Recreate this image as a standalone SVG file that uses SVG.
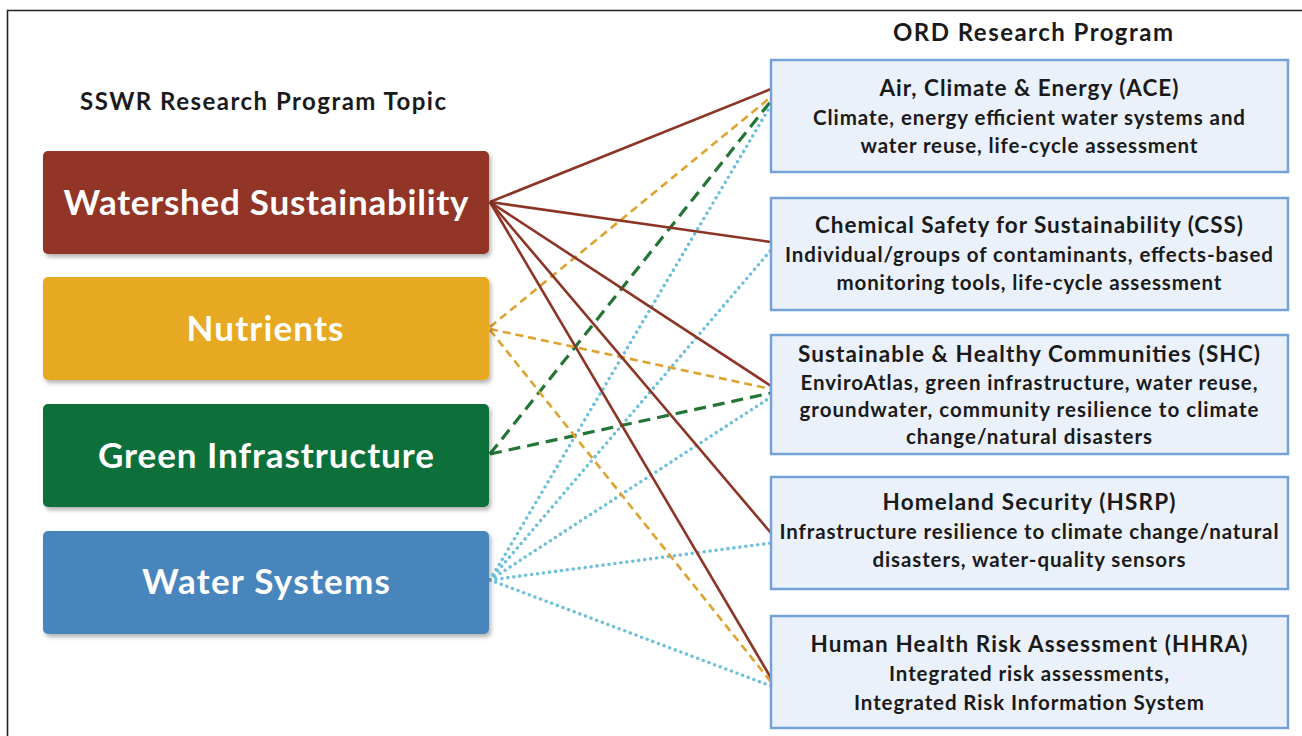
<svg xmlns="http://www.w3.org/2000/svg" width="1302" height="736" viewBox="0 0 1302 736">
<style>
.hdr{font-family:Lato,"Open Sans","Liberation Sans",sans-serif;font-weight:bold;font-size:24px;fill:#1a1a1a;text-anchor:middle}
.lt{font-family:Lato,"Open Sans","Liberation Sans",sans-serif;font-weight:bold;font-size:35px;fill:#ffffff;text-anchor:middle}
.rbox{fill:#eaf1fa;stroke:#73a2d9;stroke-width:2.5}
.rt{font-family:Lato,"Open Sans","Liberation Sans",sans-serif;font-weight:bold;font-size:22.5px;fill:#1a1a1a;text-anchor:middle}
.rb{font-family:Lato,"Open Sans","Liberation Sans",sans-serif;font-weight:bold;font-size:20.5px;fill:#1a1a1a;text-anchor:middle}
.ws{stroke:#8c3526;stroke-width:2.6;fill:none}
.nu{stroke:#dea22f;stroke-width:2.6;fill:none;stroke-dasharray:8 5}
.gi{stroke:#237536;stroke-width:3.2;fill:none;stroke-dasharray:12 7}
.wsy{stroke:#6cc0dc;stroke-width:3.6;fill:none;stroke-dasharray:0 6;stroke-linecap:round}
</style>
<defs>
<filter id="sh" x="-5%" y="-10%" width="112%" height="130%">
<feDropShadow dx="2" dy="3" stdDeviation="2" flood-color="#000" flood-opacity="0.3"/>
</filter>
</defs>
<rect x="0" y="0" width="1302" height="736" fill="#ffffff"/>
<path d="M7.5 740 V10.5 H1302" fill="none" stroke="#222" stroke-width="1.6"/>

<text class="hdr" x="263" y="110" textLength="366">SSWR Research Program Topic</text>
<text class="hdr" x="1033" y="41" textLength="280">ORD Research Program</text>

<g id="connectors">
<line class="wsy" x1="490" y1="580" x2="771" y2="105"/>
<line class="wsy" x1="490" y1="580" x2="771" y2="250"/>
<line class="wsy" x1="490" y1="580" x2="771" y2="397"/>
<line class="wsy" x1="490" y1="580" x2="771" y2="543"/>
<line class="wsy" x1="490" y1="580" x2="771" y2="686"/>
<line class="gi" x1="490" y1="454" x2="771" y2="101"/>
<line class="gi" x1="490" y1="454" x2="771" y2="393"/>
<line class="nu" x1="490" y1="327" x2="771" y2="97"/>
<line class="nu" x1="490" y1="329" x2="771" y2="389"/>
<line class="nu" x1="490" y1="330" x2="771" y2="682"/>
<line class="ws" x1="490" y1="202" x2="771" y2="89"/>
<line class="ws" x1="490" y1="202" x2="771" y2="242"/>
<line class="ws" x1="490" y1="202" x2="771" y2="386"/>
<line class="ws" x1="490" y1="202" x2="771" y2="533"/>
<line class="ws" x1="490" y1="202" x2="771" y2="678"/>
</g>

<g id="watershed">
<rect x="43" y="151" width="446" height="103" rx="5" fill="#923626" filter="url(#sh)"/>
<text class="lt" x="266" y="215" textLength="405">Watershed Sustainability</text>
</g>
<g id="nutrients">
<rect x="43" y="277" width="446" height="103" rx="5" fill="#e8a922" filter="url(#sh)"/>
<text class="lt" x="265" y="341" textLength="157">Nutrients</text>
</g>
<g id="green">
<rect x="43" y="404" width="446" height="103" rx="5" fill="#11703a" filter="url(#sh)"/>
<text class="lt" x="266" y="468" textLength="336">Green Infrastructure</text>
</g>
<g id="watersystems">
<rect x="43" y="531" width="446" height="103" rx="5" fill="#4a85bd" filter="url(#sh)"/>
<text class="lt" x="266" y="594" textLength="248">Water Systems</text>
</g>

<g id="ace">
<rect class="rbox" x="771" y="60" width="517" height="112"/>
<text class="rt" x="1029" y="96" textLength="299">Air, Climate &amp; Energy (ACE)</text>
<text class="rb" x="1029" y="125" textLength="432">Climate, energy efficient water systems and</text>
<text class="rb" x="1029" y="153" textLength="337">water reuse, life-cycle assessment</text>
</g>
<g id="css">
<rect class="rbox" x="771" y="198" width="517" height="112"/>
<text class="rt" x="1029" y="233" textLength="428">Chemical Safety for Sustainability (CSS)</text>
<text class="rb" x="1029" y="262" textLength="488">Individual/groups of contaminants, effects-based</text>
<text class="rb" x="1029" y="290" textLength="385">monitoring tools, life-cycle assessment</text>
</g>
<g id="shc">
<rect class="rbox" x="771" y="335" width="517" height="119"/>
<text class="rt" x="1029" y="362" textLength="462">Sustainable &amp; Healthy Communities (SHC)</text>
<text class="rb" x="1029" y="390" textLength="457">EnviroAtlas, green infrastructure, water reuse,</text>
<text class="rb" x="1029" y="417" textLength="459">groundwater, community resilience to climate</text>
<text class="rb" x="1029" y="444" textLength="246">change/natural disasters</text>
</g>
<g id="hsrp">
<rect class="rbox" x="771" y="477" width="517" height="112"/>
<text class="rt" x="1029" y="510" textLength="293">Homeland Security (HSRP)</text>
<text class="rb" x="1029" y="539" textLength="499">Infrastructure resilience to climate change/natural</text>
<text class="rb" x="1029" y="567" textLength="313">disasters, water-quality sensors</text>
</g>
<g id="hhra">
<rect class="rbox" x="771" y="616" width="517" height="112"/>
<text class="rt" x="1029" y="652" textLength="437">Human Health Risk Assessment (HHRA)</text>
<text class="rb" x="1029" y="681" textLength="280">Integrated risk assessments,</text>
<text class="rb" x="1029" y="710" textLength="350">Integrated Risk Information System</text>
</g>
</svg>
